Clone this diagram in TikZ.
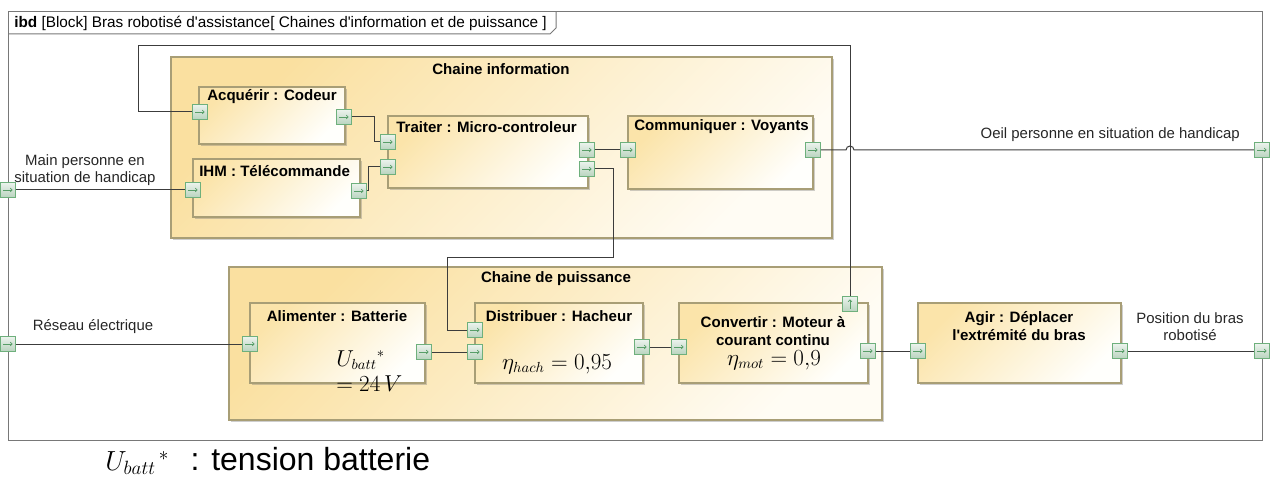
\documentclass[tikz,border=0pt]{standalone}
\usepackage{fontspec}
\setmainfont{Liberation Sans}
\usetikzlibrary{arrows.meta,calc,fit,shadows}

\definecolor{frameGray}{RGB}{120,120,120}
\definecolor{blockEdge}{RGB}{168,158,118}
\definecolor{chainTop}{RGB}{250,224,160}
\definecolor{chainBot}{RGB}{255,252,244}
\definecolor{blockTop}{RGB}{251,228,170}
\definecolor{blockBot}{RGB}{255,255,252}
\definecolor{portEdge}{RGB}{110,176,124}
\definecolor{portTop}{RGB}{236,243,237}
\definecolor{portBot}{RGB}{184,211,190}
\definecolor{portArrow}{RGB}{88,158,104}
\definecolor{wireGray}{RGB}{60,60,60}

\newcommand{\apos}{\textquotesingle}

\tikzset{
  chain/.style={draw=blockEdge, line width=0.8pt, inner sep=0pt, top color=chainTop, bottom color=chainBot, shading angle=45, drop shadow={shadow xshift=1.6pt, shadow yshift=-1.6pt, opacity=0.35, fill=black!55}},
  block/.style={draw=blockEdge, line width=0.8pt, inner sep=0pt, top color=blockTop, bottom color=blockBot, shading angle=45, drop shadow={shadow xshift=1.6pt, shadow yshift=-1.6pt, opacity=0.35, fill=black!55}},
  portbase/.style={draw=portEdge, line width=0.7pt, inner sep=0pt, minimum size=11.5pt, top color=portTop, bottom color=portBot},
  portright/.style={portbase, path picture={\draw[portArrow, line width=0.5pt, -{Straight Barb[length=1.4pt,width=2.8pt]}] ($(path picture bounding box.west)!0.2!(path picture bounding box.east)$) -- ($(path picture bounding box.west)!0.8!(path picture bounding box.east)$);}},
  portup/.style={portbase, path picture={\draw[portArrow, line width=0.5pt, -{Straight Barb[length=1.4pt,width=2.8pt]}] ($(path picture bounding box.south)!0.2!(path picture bounding box.north)$) -- ($(path picture bounding box.south)!0.8!(path picture bounding box.north)$);}},
  title/.style={font=\fontsize{11.3}{13.5}\selectfont\bfseries, inner sep=0pt, align=center},
  flow/.style={font=\fontsize{11.2}{12.8}\selectfont, inner sep=0pt, align=center, text=black!85},
  link/.style={draw=wireGray, line width=0.75pt},
}

\begin{document}
\begin{tikzpicture}[x=0.75pt,y=0.75pt,yscale=-1,xscale=1]
\useasboundingbox (0,0) rectangle (1273,477);

%Shape: Frame
\draw[frameGray, line width=0.75pt] (8,12) rectangle (1262,440);
\draw[frameGray, line width=0.75pt] (8,34) -- (550,34) -- (556,28) -- (556,12);
% Text Node
\node[anchor=west, inner sep=0pt, font=\fontsize{11.5}{13}\selectfont] (hdr) at (14,23) {\textbf{ibd} [Block] Bras robotisé d\apos assistance[ Chaines d\apos information et de puissance ]};

%Shape: Chains
\node[chain, fit={(171,57) (832,238)}] (ci) {};
\node[chain, fit={(229,267) (882,420)}] (cp) {};
\node[title] (ci-t) at (501,69) {Chaine information};
\node[title] (cp-t) at (556,279) {Chaine de puissance};

%Shape: Blocks
\node[block, fit={(199,87) (345,144)}] (acq) {};
\node[block, fit={(193,159) (360,217)}] (ihm) {};
\node[block, fit={(388,116) (588,188)}] (tr) {};
\node[block, fit={(628,116) (813,189)}] (com) {};
\node[block, fit={(250,303) (425,383)}] (alim) {};
\node[block, fit={(475,303) (643,383)}] (dis) {};
\node[block, fit={(679,303) (868,383)}] (conv) {};
\node[block, fit={(918,303) (1121,383)}] (agir) {};

% Text Node
\node[title, anchor=west] (acq-t) at (207,97) {Acquérir : Codeur};
\node[title, anchor=west] (ihm-t) at (199,171) {IHM : Télécommande};
\node[title, anchor=west] (tr-t) at (396,127) {Traiter : Micro-controleur};
\node[title, anchor=west] (com-t) at (634,127) {Communiquer : Voyants};
\node[title] (alim-t) at (337,316) {Alimenter : Batterie};
\node[title] (dis-t) at (559,316) {Distribuer : Hacheur};
\node[title] (conv-t) at (773,331) {Convertir : Moteur à\\courant continu};
\node[title] (agir-t) at (1019,326) {Agir : Déplacer\\l\apos extrémité du bras};

% Math Node
\node[anchor=west, inner sep=0pt, align=left, font=\fontsize{16}{19}\selectfont] (ubatt) at (336,371) {$U_{batt}{}^{*}$\\$=24\,V$};
\node[inner sep=0pt, font=\fontsize{16}{19}\selectfont] (etah) at (557,364) {$\eta_{hach}=0{,}95$};
\node[inner sep=0pt, font=\fontsize{16}{19}\selectfont] (etam) at (774,360) {$\eta_{mot}=0{,}9$};

%Shape: Ports
\node[portright] (fr-main) at (8,190) {};
\node[portright] (fr-res) at (8,344) {};
\node[portright] (fr-oeil) at (1262,150) {};
\node[portright] (fr-pos) at (1262,351) {};
\node[portright] (acq-in) at (200,112) {};
\node[portright] (acq-out) at (344,117) {};
\node[portright] (ihm-in) at (193,190) {};
\node[portright] (ihm-out) at (359,191) {};
\node[portright] (tr-in1) at (388,142) {};
\node[portright] (tr-in2) at (388,167) {};
\node[portright] (tr-out1) at (587,150) {};
\node[portright] (tr-out2) at (587,169) {};
\node[portright] (com-in) at (628,150) {};
\node[portright] (com-out) at (813,150) {};
\node[portright] (alim-in) at (250,344) {};
\node[portright] (alim-out) at (424,352) {};
\node[portright] (dis-in1) at (475,330) {};
\node[portright] (dis-in2) at (475,352) {};
\node[portright] (dis-out) at (642,347) {};
\node[portright] (conv-in) at (679,347) {};
\node[portright] (conv-out) at (868,351) {};
\node[portup] (conv-up) at (850,304) {};
\node[portright] (agir-in) at (918,351) {};
\node[portright] (agir-out) at (1120,351) {};

%Straight Lines
\draw[link] (fr-main.east) -- (ihm-in.west);
\draw[link] (fr-res.east) -- (alim-in.west);
\draw[link] (acq-out.east) -- ++(22,0) |- (tr-in1.west);
\draw[link] (ihm-out.east) -- ++(1,0) |- (tr-in2.west);
\draw[link] (tr-out1.east) -- (com-in.west);
\draw[link] (tr-out2.east) -| (613,257) -| (447,330) -- (dis-in1.west);
\draw[link] (alim-out.east) -- (dis-in2.west);
\draw[link] (dis-out.east) -- (conv-in.west);
\draw[link] (conv-out.east) -- (agir-in.west);
\draw[link] (agir-out.east) -- (fr-pos.west);
\draw[link] (conv-up.north) |- (138,46) |- (acq-in.west);
\draw[link] (com-out.east) -- (846,150) arc (180:360:4) -- (fr-oeil.west);

% Text Node
\node[flow] (main-l) at (85,170) {Main personne en\\situation de handicap};
\node[flow] (res-l) at (93,327) {Réseau électrique};
\node[flow, anchor=east] (oeil-l) at (1240,135) {Oeil personne en situation de handicap};
\node[flow] (pos-l) at (1190,327) {Position du bras\\robotisé};

% Text Node
\node[anchor=west, inner sep=0pt, font=\fontsize{24}{28}\selectfont] (legend) at (105,461) {{\fontsize{22}{26}\selectfont$U_{batt}{}^{\,*}$}\hspace{16pt}: tension batterie};

\end{tikzpicture}
\end{document}
